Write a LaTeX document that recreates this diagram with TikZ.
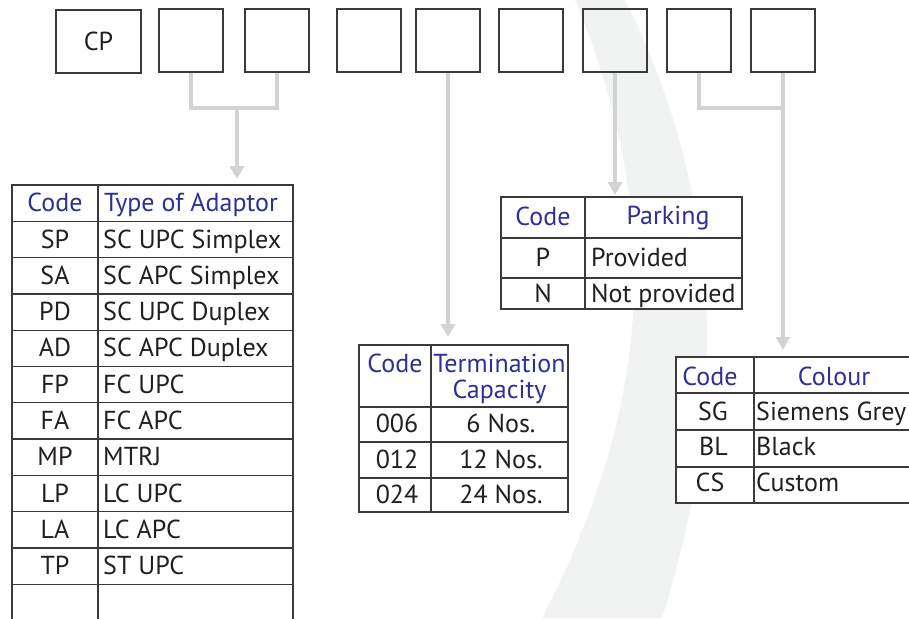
\documentclass[tikz,border=0pt]{standalone}
\usepackage{fontspec}
\setmainfont{PT Sans}
\usetikzlibrary{arrows.meta}
\definecolor{ink}{HTML}{231F20}
\definecolor{headblue}{HTML}{2E3192}
\definecolor{linkgray}{HTML}{D1D3D4}
\definecolor{bandgray}{HTML}{F1F2F2}
\definecolor{rulegray}{HTML}{3A3A3A}
\tikzset{
  codebox/.style={draw=rulegray,line width=1.4pt,minimum width=64pt,minimum height=63pt,inner sep=0pt},
  grid/.style={draw=rulegray,line width=1.3pt},
  link/.style={draw=linkgray,line width=3.5pt},
  tip/.style={-{Triangle[width=14pt,length=13pt]}},
  cell/.style={font=\fontsize{26}{30}\selectfont,text=ink,inner sep=0pt,anchor=base},
  head/.style={cell,text=headblue},
}
\begin{document}
\begin{tikzpicture}[x=1pt,y=-1pt]
  \useasboundingbox (0,0) rectangle (909,618);
  \clip (0,0) rectangle (909,618);
  \pgfmathsetmacro\rh{36.3}
  % background band:
  \fill[bandgray] (575,0) .. controls (662,210) and (655,400) .. (542,618)
    -- (662,618) .. controls (725,420) and (730,210) .. (625,0) -- cycle;
  % code boxes:
  \node[codebox,minimum width=85pt,font=\fontsize{26}{30}\selectfont,text=ink] (cp) at (98.5,41.5) {CP};
  \foreach \n/\x in {2/191,3/277,4/369,5/448,6/531,7/615,8/699,9/783}
    \node[codebox] (b\n) at (\x,40.5) {};
  % connectors:
  \coordinate (ad-join) at (237,108);
  \coordinate (ad-tip) at (237,179);
  \coordinate (tm-tip) at (448,337);
  \coordinate (pk-tip) at (615,195);
  \coordinate (cl-join) at (783,108);
  \coordinate (cl-tip) at (783,350);
  \draw[link] (b2.south) |- (ad-join) -| (b3.south);
  \draw[link,tip] (ad-join) -- (ad-tip);
  \draw[link,tip] (b5.south) -- (tm-tip);
  \draw[link,tip] (b7.south) -- (pk-tip);
  \draw[link] (b8.south) |- (cl-join);
  \draw[link,tip] (b9.south) -- (cl-tip);
  % adaptor table:
  \draw[grid,fill=white] (12,185) rectangle (293,640);
  \draw[grid] (98,185) -- (98,640);
  \foreach \i in {1,...,11}
    \draw[grid] (12,{185+\i*\rh}) -- (293,{185+\i*\rh});
  \node[head] (ad-code) at (55,211.7) {Code};
  \node[head,anchor=base west] (ad-type) at (104,211.7) {Type of Adaptor};
  \foreach \c/\t [count=\i] in {SP/SC UPC Simplex,SA/SC APC Simplex,PD/SC UPC Duplex,
      AD/SC APC Duplex,FP/FC UPC,FA/FC APC,MP/MTRJ,LP/LC UPC,LA/LC APC,TP/ST UPC}{
    \node[cell] (ad-c\i) at (55,{211.7+\i*\rh}) {\c};
    \node[cell,anchor=base west] (ad-t\i) at (103,{211.7+\i*\rh}) {\t};
  }
  % termination table:
  \draw[grid,fill=white] (359,345) rectangle (568,512);
  \draw[grid] (431,345) -- (431,512);
  \foreach \y in {407,442,478}
    \draw[grid] (359,\y) -- (568,\y);
  \node[head] (tm-code) at (395,372) {Code};
  \node[head] (tm-cap1) at (499.5,372) {Termination};
  \node[head] (tm-cap2) at (499.5,398) {Capacity};
  \foreach \c/\t/\y [count=\i] in {006/6 Nos./432,012/12 Nos./468,024/24 Nos./503}{
    \node[cell] (tm-c\i) at (397,\y) {\c};
    \node[cell] (tm-t\i) at (501,\y) {\t};
  }
  % parking table:
  \draw[grid,fill=white] (501,197) rectangle (742,309);
  \draw[grid] (585,197) -- (585,309);
  \foreach \y in {238,278}
    \draw[grid] (501,\y) -- (742,\y);
  \node[head] (pk-code) at (543,225) {Code};
  \node[head] (pk-park) at (668,224) {Parking};
  \node[cell] (pk-c1) at (543,266) {P};
  \node[cell,anchor=base west] (pk-t1) at (591,266) {Provided};
  \node[cell] (pk-c2) at (543,302.7) {N};
  \node[cell,anchor=base west] (pk-t2) at (591,302.7) {Not provided};
  % colour table:
  \draw[grid,fill=white] (676,357) rectangle (930,503);
  \draw[grid] (754,357) -- (754,503);
  \foreach \y in {393,430,467}
    \draw[grid] (676,\y) -- (930,\y);
  \node[head] (cl-code) at (710,385) {Code};
  \node[head] (cl-col) at (834,385) {Colour};
  \node[cell] (cl-c1) at (713,420) {SG};
  \node[cell,anchor=base west] (cl-t1) at (756,420) {Siemens Grey};
  \node[cell] (cl-c2) at (713.5,455) {BL};
  \node[cell,anchor=base west] (cl-t2) at (756,455) {Black};
  \node[cell] (cl-c3) at (710,491.7) {CS};
  \node[cell,anchor=base west] (cl-t3) at (756,491.7) {Custom};
\end{tikzpicture}
\end{document}
